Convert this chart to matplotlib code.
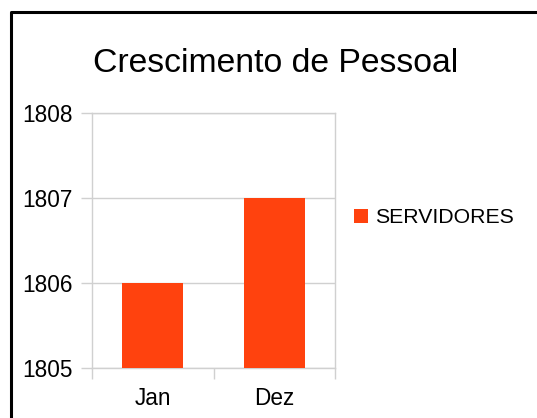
import matplotlib
matplotlib.use('Agg')
import matplotlib.pyplot as plt
from matplotlib.lines import Line2D

plt.rcParams['font.family'] = ['Liberation Sans', 'DejaVu Sans']

meses = ["Jan", "Dez"]
servidores = [1806, 1807]
y_ticks = [1805, 1806, 1807, 1808]

W, H = 537, 418
fig = plt.figure(figsize=(W / 100, H / 100), dpi=100)
fig.patch.set_facecolor('white')

# plot area in pixels: x 92..335, y 113..368
ax = fig.add_axes([92 / W, (H - 368) / H, (335 - 92) / W, (368 - 113) / H])

grey = '#d0d0d0'
x = range(len(meses))
ax.bar(x, [v - 1805 for v in servidores], bottom=1805, width=0.5,
       color='#ff420e', zorder=3, label='SERVIDORES')

ax.set_xlim(-0.5, 1.5)
ax.set_ylim(1805, 1808)
ax.set_yticks(y_ticks)
ax.set_yticklabels([str(t) for t in y_ticks], fontsize=16.3)
ax.set_xticks([-0.5, 0.5, 1.5])
ax.set_xticklabels([])
ax.set_xticks([0, 1], minor=True)
ax.set_xticklabels(meses, minor=True, fontsize=16.3)
ax.tick_params(axis='x', which='minor', length=0, pad=14)
ax.tick_params(axis='x', which='major', length=8, color=grey, width=1)
ax.tick_params(axis='y', length=8, color=grey, width=1, pad=6)
ax.yaxis.grid(True, color=grey, linewidth=1, zorder=0)
for s in ax.spines.values():
    s.set_color(grey)
    s.set_linewidth(1)

fig.text(276 / W, 1 - 64 / H, "Crescimento de Pessoal", fontsize=24.3,
         ha='center', va='center')

fig.legend(loc='center left', bbox_to_anchor=(345 / W, 1 - 218 / H),
           frameon=False, fontsize=15.3, handlelength=0.7, handleheight=0.7,
           handletextpad=0.3, borderaxespad=0)

# outer frame (top and left edges visible)
fig.add_artist(Line2D([11 / W, 11 / W, 1], [0, 1 - 12 / H, 1 - 12 / H],
                      transform=fig.transFigure, color='black', linewidth=2.2))

fig.savefig('out.png', dpi=100)
